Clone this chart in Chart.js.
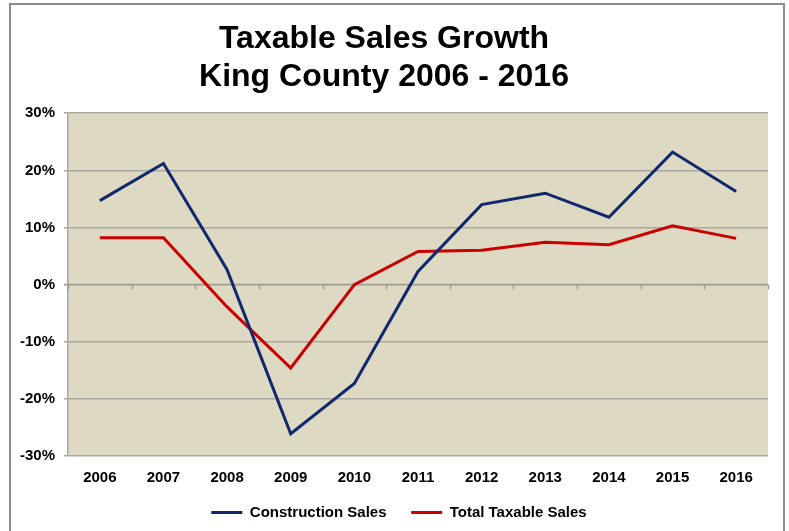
<!DOCTYPE html>
<html>
<head>
<meta charset="utf-8">
<script src="https://cdn.jsdelivr.net/npm/chart.js"></script>
<style>
  html, body { margin: 0; padding: 0; background: #fff; }
  #wrap { position: relative; width: 789px; height: 531px; }
  #frame { position: absolute; left: 9px; top: 3px; width: 776px; height: 531px;
           border: 2px solid #8c8c8c; box-sizing: border-box; pointer-events: none; }
</style>
</head>
<body>
<div id="wrap">
  <canvas id="chart" width="789" height="531"></canvas>
  <div id="frame"></div>
</div>
<script>
const years = ['2006', '2007', '2008', '2009', '2010', '2011', '2012', '2013', '2014', '2015', '2016'];
const constructionSales = [14.7, 21.2, 2.6, -26.1, -17.3, 2.3, 14.0, 16.0, 11.8, 23.2, 16.3];
const totalTaxableSales = [8.2, 8.2, -3.9, -14.6, 0.0, 5.8, 6.0, 7.4, 7.0, 10.3, 8.1];
const yTicks = [-30, -20, -10, 0, 10, 20, 30];

// horizontal axis line at 0 with category tick marks (like the Excel original)
const zeroAxis = {
    id: 'zeroAxis',
    beforeDatasetsDraw(chart) {
        const { ctx, scales: { x, y } } = chart;
        const y0 = y.getPixelForValue(0);
        const half = (x.getPixelForValue(1) - x.getPixelForValue(0)) / 2;
        ctx.save();
        ctx.strokeStyle = '#a0a098';
        ctx.lineWidth = 1.5;
        ctx.beginPath();
        ctx.moveTo(x.left - 4, y0);
        ctx.lineTo(x.right, y0);
        for (let i = 0; i <= years.length; i++) {
            const px = Math.round(x.getPixelForValue(i) - half) + 0.5;
            ctx.moveTo(px, y0);
            ctx.lineTo(px, y0 + 5);
        }
        ctx.stroke();
        ctx.restore();
    }
};

const plotBg = {
    id: 'plotBg',
    beforeDraw(chart) {
        const { ctx, chartArea: a } = chart;
        ctx.save();
        ctx.fillStyle = '#ddd9c3';
        ctx.fillRect(a.left, a.top, a.right - a.left, a.bottom - a.top);
        ctx.restore();
    }
};

// the original legend sits a little right of the page centre
const legendShift = {
    id: 'legendShift',
    afterLayout(chart) {
        chart.legend.left += 15;
        chart.legend.right += 15;
    }
};

const tickFont = { family: "'Liberation Sans', Arial, sans-serif", size: 15, weight: 'bold' };
const legendGap = '    '; // widens the space between the two legend entries

new Chart(document.getElementById('chart').getContext('2d'), {
    type: 'line',
    data: {
        labels: years,
        datasets: [{
            label: 'Construction Sales',
            data: constructionSales,
            borderColor: '#11296c',
            backgroundColor: '#11296c',
            borderWidth: 3,
            pointRadius: 0,
            tension: 0
        }, {
            label: 'Total Taxable Sales',
            data: totalTaxableSales,
            borderColor: '#cc0000',
            backgroundColor: '#cc0000',
            borderWidth: 3,
            pointRadius: 0,
            tension: 0
        }]
    },
    options: {
        responsive: false,
        animation: false,
        layout: { padding: { left: 0, right: 21, top: 21, bottom: 1 } },
        plugins: {
            title: {
                display: true,
                text: ['Taxable Sales Growth', 'King County 2006 - 2016'],
                color: '#000',
                font: { family: "'Liberation Sans Narrow', 'Arial Narrow', 'Liberation Sans', sans-serif", size: 32, weight: 'bold', lineHeight: 1.16 },
                padding: { top: 0, bottom: 18 }
            },
            legend: {
                position: 'bottom',
                labels: {
                    usePointStyle: true,
                    pointStyle: 'line',
                    pointStyleWidth: 31,
                    color: '#000',
                    font: tickFont,
                    padding: 8,
                    generateLabels(chart) {
                        const items = Chart.defaults.plugins.legend.labels.generateLabels(chart);
                        items[0].text += legendGap;
                        return items;
                    }
                }
            },
            tooltip: { enabled: false }
        },
        scales: {
            x: {
                offset: true,
                afterFit(scale) { scale.height = 41; },
                grid: { display: false, drawTicks: false },
                border: { display: false },
                ticks: { color: '#000', font: tickFont, maxRotation: 0, padding: 13 }
            },
            y: {
                min: -30,
                max: 30,
                afterFit(scale) { scale.width = 68; },
                afterBuildTicks(scale) { scale.ticks = yTicks.map(v => ({ value: v })); },
                grid: { color: '#a8a8a0', lineWidth: 1.5, tickLength: 4 },
                border: { color: '#a8a8a0', width: 1.5 },
                ticks: { color: '#000', font: tickFont, padding: 9, callback: v => v + '%' }
            }
        }
    },
    plugins: [plotBg, zeroAxis, legendShift]
});
</script>
</body>
</html>
